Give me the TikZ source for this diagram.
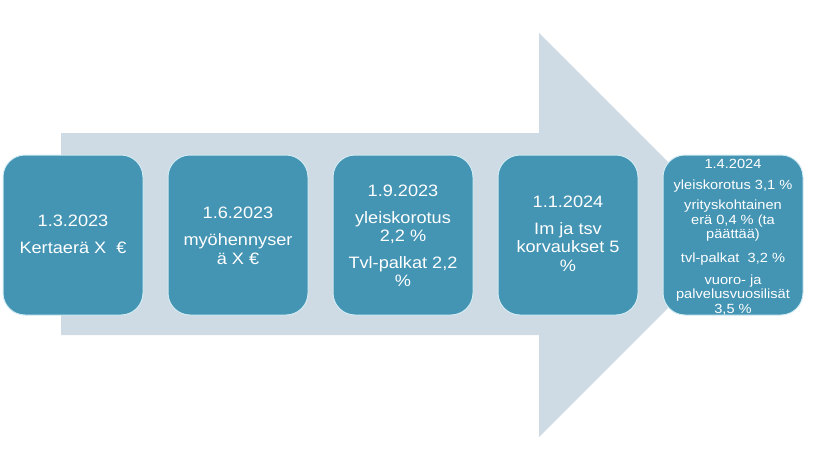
\documentclass[tikz,border=0pt]{standalone}
\usepackage{fontspec}
\newfontfamily\boxfont[FakeStretch=1.1]{Liberation Sans}
\definecolor{arrowfill}{HTML}{CEDBE4}
\definecolor{boxfill}{HTML}{4494B3}
\definecolor{boxline}{HTML}{D3EBF2}
\begin{document}
\begin{tikzpicture}[x=1pt,y=-1pt,
  stagebox/.style={draw=boxline, line width=1pt, fill=boxfill, rounded corners=22pt,
    minimum width=140pt, minimum height=160pt, inner sep=0pt},
  bigtext/.style={text=white, align=center, font=\boxfont\fontsize{16.5}{18.5}\selectfont},
  smalltext/.style={text=white, align=center, font=\boxfont\fontsize{13.3}{14.5}\selectfont}]
\useasboundingbox (0,0) rectangle (816,459);
\fill[arrowfill] (61,133) -- (539,133) -- (539,33) -- (741,235) -- (539,437) -- (539,335) -- (61,335) -- cycle;
\node[stagebox] (b1) at (73,235) {};
\node[stagebox] (b2) at (238,235) {};
\node[stagebox] (b3) at (403,235) {};
\node[stagebox] (b4) at (568,235) {};
\node[stagebox] (b5) at (733,235) {};
\node[bigtext] (t1) at (73,234) {1.3.2023\\[8.5pt]Kertaerä X\ \ €};
\node[bigtext] (t2) at (238,236) {1.6.2023\\[8.5pt]myöhennyser\\ä X €};
\node[bigtext] (t3) at (403,236) {1.9.2023\\[8.5pt]yleiskorotus\\2,2 \%\\[8pt]Tvl-palkat 2,2\\\%};
\node[bigtext] (t4) at (568,234) {1.1.2024\\[8pt]Im ja tsv\\korvaukset 5\\\%};
\node[smalltext] (t5) at (733,237) {1.4.2024\\[6.5pt]yleiskorotus 3,1 \%\\[5.5pt]yrityskohtainen\\erä 0,4 \% (ta\\päättää)\\[9pt]tvl-palkat\ \ 3,2 \%\\[7.5pt]vuoro- ja\\palvelusvuosilisät\\3,5 \%};
\end{tikzpicture}
\end{document}
